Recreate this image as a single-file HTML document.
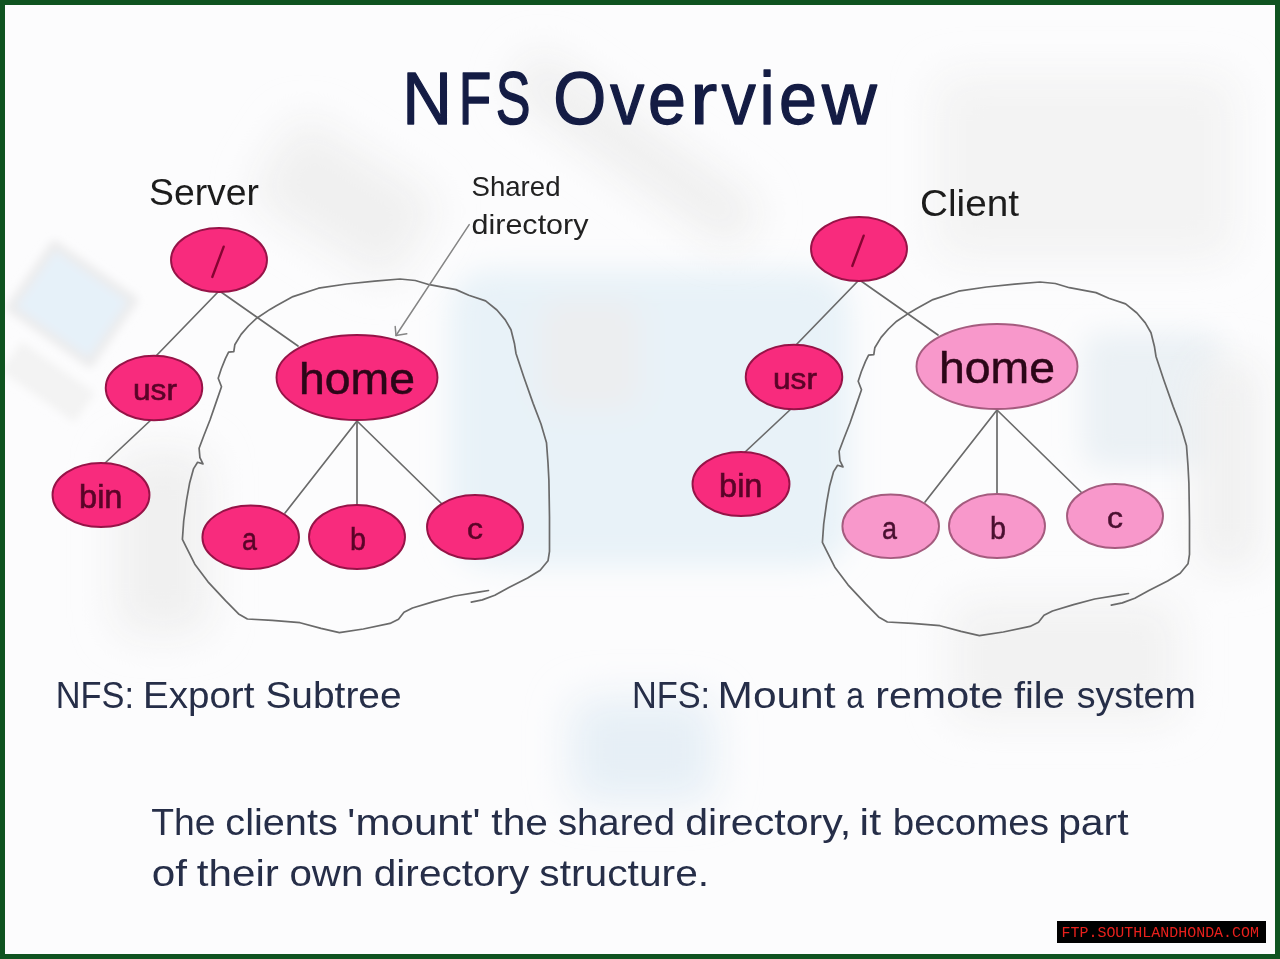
<!DOCTYPE html>
<html><head><meta charset="utf-8"><title>NFS Overview</title>
<style>
html,body{margin:0;padding:0;background:#fdfdfd;}
body{width:1280px;height:959px;overflow:hidden;font-family:"Liberation Sans",sans-serif;}
svg{display:block;}
text{font-family:"Liberation Sans",sans-serif;}
</style></head>
<body>
<svg width="1280" height="959" viewBox="0 0 1280 959">
<defs>
<filter id="b20" x="-50%" y="-50%" width="200%" height="200%"><feGaussianBlur stdDeviation="20"/></filter>
<filter id="b14" x="-50%" y="-50%" width="200%" height="200%"><feGaussianBlur stdDeviation="14"/></filter>
<filter id="b4" x="-50%" y="-50%" width="200%" height="200%"><feGaussianBlur stdDeviation="4"/></filter>
</defs>
<rect x="0" y="0" width="1280" height="959" fill="#fcfcfd"/>
<g id="bg">
<g filter="url(#b14)">
  <rect x="450" y="270" width="400" height="296" rx="40" fill="#e8f2f8"/>
  <rect x="540" y="300" width="100" height="110" rx="20" fill="#eceef0"/>
  <rect x="1082" y="332" width="140" height="136" rx="20" fill="#ebf1f5"/>
</g>
<g filter="url(#b4)">
  <g transform="translate(72,304) rotate(35)">
    <rect x="-53" y="-43" width="106" height="86" rx="5" fill="#ececed"/>
    <rect x="-44" y="-34" width="88" height="68" rx="3" fill="#e6f1f9"/>
  </g>
  <g transform="translate(48,382) rotate(35)"><rect x="-45" y="-18" width="90" height="36" fill="#f3f3f3"/></g>
</g>
<g filter="url(#b20)">
  <g transform="translate(345,200) rotate(32)"><rect x="-85" y="-50" width="170" height="100" rx="20" fill="#f0f0f0"/></g>
  <g transform="translate(635,150) rotate(35)"><rect x="-140" y="-28" width="280" height="56" rx="20" fill="#efefef"/></g>
  <rect x="935" y="75" width="300" height="185" rx="20" fill="#f3f3f3"/>
  <rect x="570" y="698" width="145" height="105" rx="20" fill="#e6eff6"/>
  <rect x="950" y="600" width="230" height="120" rx="20" fill="#f2f2f2"/>
  <rect x="1195" y="360" width="65" height="210" rx="20" fill="#f0f0f0"/>
  <rect x="115" y="450" width="95" height="185" rx="20" fill="#f0f0f0"/>
</g>
</g>
<g id="server">
  <g stroke="#6a6a6a" stroke-width="1.7" fill="none" stroke-linecap="round">
    <line x1="218" y1="292" x2="155" y2="357"/>
    <line x1="221" y1="292" x2="298" y2="346"/>
    <line x1="152" y1="419" x2="104" y2="464"/>
    <line x1="357" y1="421" x2="285" y2="513"/>
    <line x1="357" y1="421" x2="357" y2="506"/>
    <line x1="357" y1="421" x2="441" y2="503"/>
  </g>
  <g stroke="#961347" stroke-width="1.9" fill="#f82b7d">
    <ellipse cx="219" cy="260" rx="48" ry="32"/>
    <ellipse cx="154" cy="388" rx="48.3" ry="32.3"/>
    <ellipse cx="101" cy="495" rx="48.5" ry="32"/>
  </g>
  <g stroke="#961347" stroke-width="1.9" fill="#f82b7d">
    <ellipse cx="357" cy="377.5" rx="80.5" ry="42.5"/>
    <ellipse cx="250.7" cy="537.3" rx="48.3" ry="31.8"/>
    <ellipse cx="357" cy="537" rx="48" ry="32"/>
    <ellipse cx="475" cy="527" rx="48" ry="32"/>
  </g>
  <line x1="212.3" y1="277" x2="223.7" y2="246.7" stroke="#860432" stroke-width="2.4" stroke-linecap="round"/>
  <g fill="#5a0428" stroke="#5a0428" stroke-width="0.6">
    <text id="susr" x="133" y="399.7" font-size="30" textLength="44" lengthAdjust="spacingAndGlyphs">usr</text>
    <text id="sbin" x="79" y="507.6" font-size="33" textLength="43.5" lengthAdjust="spacingAndGlyphs">bin</text>
  </g>
  <g fill="#5a0428" stroke="#5a0428" stroke-width="0.5">
    <text id="sa" x="242" y="550.4" font-size="31" textLength="15" lengthAdjust="spacingAndGlyphs">a</text>
    <text id="sb" x="350" y="550" font-size="32" textLength="16" lengthAdjust="spacingAndGlyphs">b</text>
    <text id="sc" x="467" y="539" font-size="30" textLength="16" lengthAdjust="spacingAndGlyphs">c</text>
  </g>
  <text id="shome" x="299" y="394" font-size="44" fill="#2c0618" stroke="#2c0618" stroke-width="0.5" textLength="116" lengthAdjust="spacingAndGlyphs">home</text>
</g>
<g id="client" transform="translate(640,-11)">
  <g stroke="#6a6a6a" stroke-width="1.7" fill="none" stroke-linecap="round">
    <line x1="218" y1="292" x2="155" y2="357"/>
    <line x1="221" y1="292" x2="298" y2="346"/>
    <line x1="152" y1="419" x2="104" y2="464"/>
    <line x1="357" y1="421" x2="285" y2="513"/>
    <line x1="357" y1="421" x2="357" y2="506"/>
    <line x1="357" y1="421" x2="441" y2="503"/>
  </g>
  <g stroke="#961347" stroke-width="1.9" fill="#f82b7d">
    <ellipse cx="219" cy="260" rx="48" ry="32"/>
    <ellipse cx="154" cy="388" rx="48.3" ry="32.3"/>
    <ellipse cx="101" cy="495" rx="48.5" ry="32"/>
  </g>
  <g stroke="#a45b7e" stroke-width="1.9" fill="#f898cb">
    <ellipse cx="357" cy="377.5" rx="80.5" ry="42.5"/>
    <ellipse cx="250.7" cy="537.3" rx="48.3" ry="31.8"/>
    <ellipse cx="357" cy="537" rx="48" ry="32"/>
    <ellipse cx="475" cy="527" rx="48" ry="32"/>
  </g>
  <line x1="212.3" y1="277" x2="223.7" y2="246.7" stroke="#860432" stroke-width="2.4" stroke-linecap="round"/>
  <g fill="#5a0428" stroke="#5a0428" stroke-width="0.6">
    <text id="cusr" x="133" y="399.7" font-size="30" textLength="44" lengthAdjust="spacingAndGlyphs">usr</text>
    <text id="cbin" x="79" y="507.6" font-size="33" textLength="43.5" lengthAdjust="spacingAndGlyphs">bin</text>
  </g>
  <g fill="#4a1030" stroke="#4a1030" stroke-width="0.5">
    <text id="ca" x="242" y="550.4" font-size="31" textLength="15" lengthAdjust="spacingAndGlyphs">a</text>
    <text id="cb" x="350" y="550" font-size="32" textLength="16" lengthAdjust="spacingAndGlyphs">b</text>
    <text id="cc" x="467" y="539" font-size="30" textLength="16" lengthAdjust="spacingAndGlyphs">c</text>
  </g>
  <text id="chome" x="299" y="394" font-size="44" fill="#2c0618" stroke="#2c0618" stroke-width="0.5" textLength="116" lengthAdjust="spacingAndGlyphs">home</text>
</g>
<path id="loop" fill="none" stroke="#6a6a6a" stroke-width="1.7" stroke-linejoin="round" stroke-linecap="round" d="M471.3,602.2 L482.3,599.9 494.8,595.2 508.9,587.4 527.6,578 540.2,570.2 548,560.8 549.5,551.4 549.5,517 548.9,480 548,463 546.5,442.7 541,424 533.2,403.6 523.8,377 516,353.5 514.5,343.8 511,329.7 505.3,319.9 496.9,310 485.6,300.9 468.8,295.2 456,289.6 429.4,284.7 415.3,280.5 400,279 374.7,281.2 346.6,284 318.5,288.2 293,296.6 276.3,305.8 270,309.4 256.7,318.2 248.4,326 241.1,334.4 234.8,344.8 233.8,351.6 228.6,352.1 225.5,358.4 221.3,368.8 218.2,378.2 221.5,386.8 216.7,400.6 210,420 203.8,435.7 199.1,448.2 199.9,457.6 203,463.9 197.6,462.3 193.6,468.6 189.7,482.7 186.6,499.9 183.7,521 182.4,539.4 186,546.7 194.8,564.2 208,581.8 225.5,600.7 238.6,613.9 247.4,619 272.2,620.4 300,622.7 321,628.4 339.4,632.6 363.3,629 390,623.4 398.5,619.2 404,612.2 412.5,608 433.6,601.6 454.7,596 480,591.8 488.5,590.5"/>
<use href="#loop" transform="translate(640,3)"/>
<g id="arrow" stroke="#858585" stroke-width="1.5" fill="none" stroke-linecap="round" stroke-linejoin="round">
  <line x1="469.2" y1="224.6" x2="396" y2="335.5"/>
  <polyline points="395.2,326.5 396,335.5 406.8,333.8"/>
</g>
<g id="title">
<text transform="translate(402.35,123.5) scale(0.9190,1)" font-size="75" fill="#141c44" stroke="#141c44" stroke-width="1.3" vector-effect="non-scaling-stroke" stroke-linejoin="round">N</text>
<text transform="translate(458.64,123.5) scale(0.7093,1)" font-size="75" fill="#141c44" stroke="#141c44" stroke-width="1.3" vector-effect="non-scaling-stroke" stroke-linejoin="round">F</text>
<text transform="translate(495.63,123.5) scale(0.6948,1)" font-size="75" fill="#141c44" stroke="#141c44" stroke-width="1.3" vector-effect="non-scaling-stroke" stroke-linejoin="round">S</text>
<text transform="translate(553.27,123.5) scale(0.9083,1)" font-size="75" fill="#141c44" stroke="#141c44" stroke-width="1.3" vector-effect="non-scaling-stroke" stroke-linejoin="round">O</text>
<text transform="translate(610.27,123.5) scale(0.9057,1)" font-size="75" fill="#141c44" stroke="#141c44" stroke-width="1.3" vector-effect="non-scaling-stroke" stroke-linejoin="round">v</text>
<text transform="translate(648.10,123.5) scale(0.9093,1)" font-size="75" fill="#141c44" stroke="#141c44" stroke-width="1.3" vector-effect="non-scaling-stroke" stroke-linejoin="round">e</text>
<text transform="translate(690.05,123.5) scale(1.0933,1)" font-size="75" fill="#141c44" stroke="#141c44" stroke-width="1.3" vector-effect="non-scaling-stroke" stroke-linejoin="round">r</text>
<text transform="translate(721.77,123.5) scale(0.9057,1)" font-size="75" fill="#141c44" stroke="#141c44" stroke-width="1.3" vector-effect="non-scaling-stroke" stroke-linejoin="round">v</text>
<text transform="translate(759.43,123.5) scale(0.9102,1)" font-size="75" fill="#141c44" stroke="#141c44" stroke-width="1.3" vector-effect="non-scaling-stroke" stroke-linejoin="round">i</text>
<text transform="translate(779.10,123.5) scale(0.9093,1)" font-size="75" fill="#141c44" stroke="#141c44" stroke-width="1.3" vector-effect="non-scaling-stroke" stroke-linejoin="round">e</text>
<text transform="translate(822.11,123.5) scale(1.0100,1)" font-size="75" fill="#141c44" stroke="#141c44" stroke-width="1.3" vector-effect="non-scaling-stroke" stroke-linejoin="round">w</text>
</g>
<text id="server_t" x="149" y="205" font-size="37" fill="#1c1c1c" textLength="110" lengthAdjust="spacingAndGlyphs">Server</text>
<text id="client_t" x="920" y="216.1" font-size="37" fill="#1c1c1c" textLength="99" lengthAdjust="spacingAndGlyphs">Client</text>
<text id="shared_t" x="471.5" y="196" font-size="28" fill="#222" textLength="89" lengthAdjust="spacingAndGlyphs">Shared</text>
<text id="dir_t" x="471.5" y="233.8" font-size="28" fill="#222" textLength="117" lengthAdjust="spacingAndGlyphs">directory</text>
<g id="exp_t">
<text x="55.78" y="707.5" font-size="37" fill="#262e48" textLength="78.26" lengthAdjust="spacingAndGlyphs">NFS:</text>
<text x="143.04" y="707.5" font-size="37" fill="#262e48" textLength="111.34" lengthAdjust="spacingAndGlyphs">Export</text>
<text x="265.43" y="707.5" font-size="37" fill="#262e48" textLength="136.19" lengthAdjust="spacingAndGlyphs">Subtree</text>
</g>
<g id="mnt_t">
<text x="631.88" y="707.6" font-size="37" fill="#262e48" textLength="78.26" lengthAdjust="spacingAndGlyphs">NFS:</text>
<text x="717.62" y="707.6" font-size="37" fill="#262e48" textLength="117.89" lengthAdjust="spacingAndGlyphs">Mount</text>
<text x="846.33" y="707.6" font-size="37" fill="#262e48" textLength="17.70" lengthAdjust="spacingAndGlyphs">a</text>
<text x="875.27" y="707.6" font-size="37" fill="#262e48" textLength="128.06" lengthAdjust="spacingAndGlyphs">remote</text>
<text x="1014.04" y="707.6" font-size="37" fill="#262e48" textLength="50.73" lengthAdjust="spacingAndGlyphs">file</text>
<text x="1076.75" y="707.6" font-size="37" fill="#262e48" textLength="119.13" lengthAdjust="spacingAndGlyphs">system</text>
</g>
<g id="p1">
<text x="151.16" y="835" font-size="37" fill="#262e48" textLength="64.24" lengthAdjust="spacingAndGlyphs">The</text>
<text x="225.31" y="835" font-size="37" fill="#262e48" textLength="112.52" lengthAdjust="spacingAndGlyphs">clients</text>
<text x="347.36" y="835" font-size="37" fill="#262e48" textLength="133.16" lengthAdjust="spacingAndGlyphs">'mount'</text>
<text x="491.38" y="835" font-size="37" fill="#262e48" textLength="56.63" lengthAdjust="spacingAndGlyphs">the</text>
<text x="557.93" y="835" font-size="37" fill="#262e48" textLength="117.03" lengthAdjust="spacingAndGlyphs">shared</text>
<text x="685.20" y="835" font-size="37" fill="#262e48" textLength="166.02" lengthAdjust="spacingAndGlyphs">directory,</text>
<text x="859.64" y="835" font-size="37" fill="#262e48" textLength="21.46" lengthAdjust="spacingAndGlyphs">it</text>
<text x="892.72" y="835" font-size="37" fill="#262e48" textLength="156.27" lengthAdjust="spacingAndGlyphs">becomes</text>
<text x="1058.17" y="835" font-size="37" fill="#262e48" textLength="70.33" lengthAdjust="spacingAndGlyphs">part</text>
</g>
<g id="p2">
<text x="151.83" y="885.6" font-size="37" fill="#262e48" textLength="35.21" lengthAdjust="spacingAndGlyphs">of</text>
<text x="196.76" y="885.6" font-size="37" fill="#262e48" textLength="82.14" lengthAdjust="spacingAndGlyphs">their</text>
<text x="289.41" y="885.6" font-size="37" fill="#262e48" textLength="73.91" lengthAdjust="spacingAndGlyphs">own</text>
<text x="373.80" y="885.6" font-size="37" fill="#262e48" textLength="155.58" lengthAdjust="spacingAndGlyphs">directory</text>
<text x="539.37" y="885.6" font-size="37" fill="#262e48" textLength="169.75" lengthAdjust="spacingAndGlyphs">structure.</text>
</g>
<rect x="1057" y="921" width="209" height="22" fill="#000"/>
<text id="wm" x="1061.5" y="937" font-size="15" fill="#e8201c" textLength="197.5" lengthAdjust="spacingAndGlyphs" style="font-family:'Liberation Mono',monospace">FTP.SOUTHLANDHONDA.COM</text>
<rect x="2.5" y="2.5" width="1275" height="954" fill="none" stroke="#0f5320" stroke-width="5"/>
</svg>
</body></html>
